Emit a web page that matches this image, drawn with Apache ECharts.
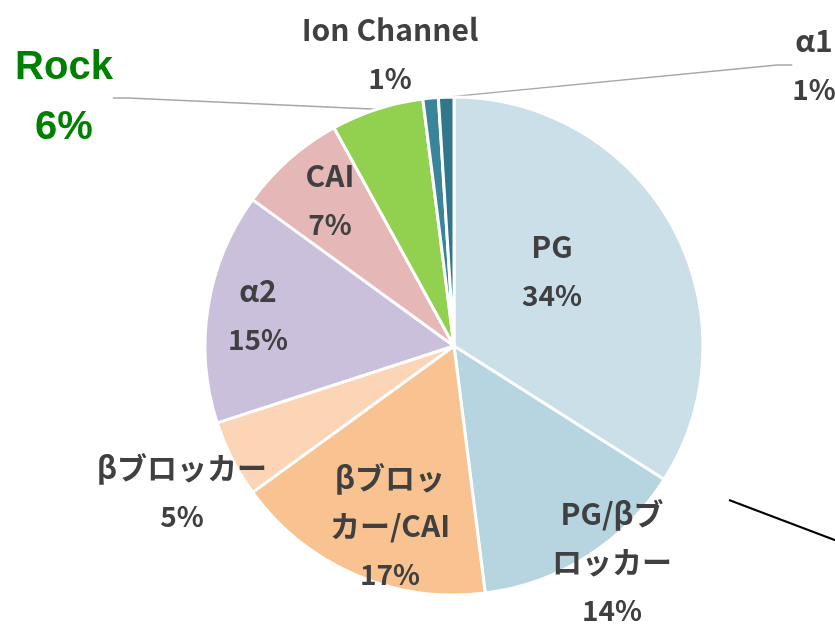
<!DOCTYPE html>
<html>
<head>
<meta charset="utf-8">
<script src="https://cdn.jsdelivr.net/npm/echarts@6/dist/echarts.min.js"></script>
<style>
html,body{margin:0;padding:0;background:#fff;}
#chart{width:835px;height:627px;}
</style>
</head>
<body>
<div id="chart"></div>
<script>
const categories = ['PG', 'PG/βブロッカー', 'βブロッカー/CAI', 'βブロッカー', 'α2', 'CAI', 'Rock', 'Ion Channel', 'α1'];
const labelTexts = ['PG', 'PG/βブ\nロッカー', 'βブロッ\nカー/CAI', 'βブロッカー', 'α2', 'CAI', 'Rock', 'Ion Channel', 'α1'];
const values = [34, 14, 17, 5, 15, 7, 6, 1, 1];
const colors = ['#cadfe8', '#b6d5e1', '#f8c291', '#fbd5b5', '#cbc0dc', '#e5b7b7', '#92d050', '#3a8599', '#31768a'];

const labelPos = [[552, 271], [612, 562], [390, 526], [182, 492], [258, 315], [330, 200], [64, 98], [390, 54], [814, 65]];
const showLine = [false, false, false, false, false, false, true, false, true];

const chart = echarts.init(document.getElementById('chart'));
const data = categories.map((c, i) => {
  const isRock = i === 6;
  const col = isRock ? '#008000' : '#404040';
  const fam = isRock ? 'Liberation Sans' : 'Noto Sans CJK JP';
  const lh = isRock ? 60 : 48;
  return {
    name: c,
    value: values[i],
    itemStyle: { color: colors[i] },
    label: {
      formatter: labelTexts[i].split('\n').map(t => '{n|' + t + '}').join('\n') + '\n{p|{d}%}',
      lineHeight: lh,
      rich: {
        n: { color: col, fontSize: isRock ? 40 : 30, lineHeight: lh, fontFamily: fam, fontWeight: 'bold', align: 'center' },
        p: { color: col, fontSize: isRock ? 40 : 28, lineHeight: lh, fontFamily: fam, fontWeight: 'bold', align: 'center' }
      }
    },
    labelLine: { show: showLine[i] }
  };
});

chart.setOption({
  animation: false,
  series: [{
    type: 'pie',
    center: [454, 346],
    radius: 249,
    startAngle: 90,
    clockwise: true,
    data: data,
    itemStyle: { borderColor: '#ffffff', borderWidth: 3 },
    label: {
      show: true,
      position: 'outside',
      align: 'center'
    },
    labelLine: {
      lineStyle: { color: '#a6a6a6', width: 1.5 },
      length: 20,
      length2: 15
    },
    labelLayout: function (p) {
      const pos = labelPos[p.dataIndex];
      return { x: pos[0], y: pos[1], align: 'center', verticalAlign: 'middle' };
    }
  }],
  graphic: [{
    type: 'line',
    shape: { x1: 729, y1: 500, x2: 840, y2: 542 },
    style: { stroke: '#000000', lineWidth: 2 }
  }]
});
</script>
</body>
</html>
